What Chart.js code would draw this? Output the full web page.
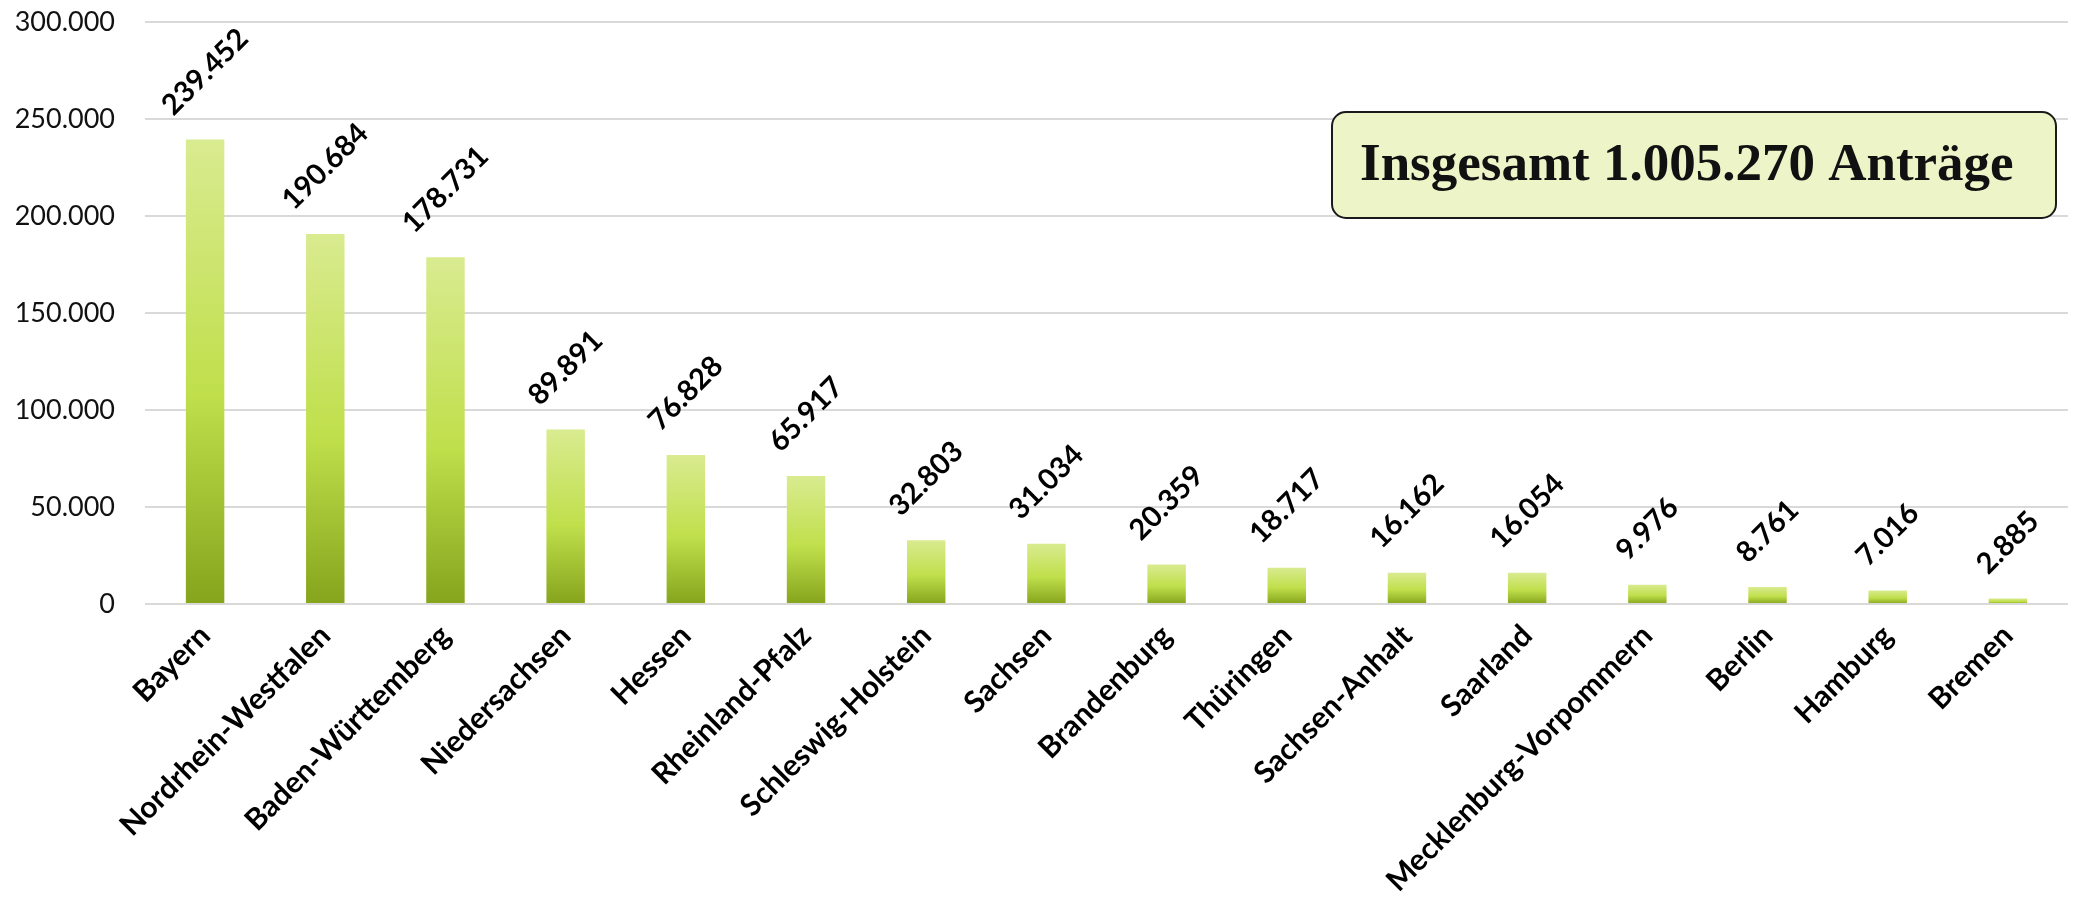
<!DOCTYPE html>
<html lang="de">
<head>
<meta charset="utf-8">
<script src="https://cdn.jsdelivr.net/npm/chart.js@4"></script>
<style>
  html, body { margin: 0; padding: 0; background: #fff; }
  #wrap { width: 2076px; height: 904px; }
</style>
</head>
<body>
<div id="wrap"><canvas id="graficoAntraege"></canvas></div>
<script>
// Bundesländer und Anzahl der Anträge
const laender = ['Bayern', 'Nordrhein-Westfalen', 'Baden-Württemberg', 'Niedersachsen', 'Hessen',
  'Rheinland-Pfalz', 'Schleswig-Holstein', 'Sachsen', 'Brandenburg', 'Thüringen', 'Sachsen-Anhalt',
  'Saarland', 'Mecklenburg-Vorpommern', 'Berlin', 'Hamburg', 'Bremen'];
const antraege = [239452, 190684, 178731, 89891, 76828, 65917, 32803, 31034, 20359, 18717, 16162,
  16054, 9976, 8761, 7016, 2885];
const yTicks = [0, 50000, 100000, 150000, 200000, 250000, 300000];
const gesamtText = 'Insgesamt 1.005.270 Anträge';

// Tausenderpunkt wie im Original
const fmt = v => String(v).replace(/\B(?=(\d{3})+(?!\d))/g, '.');

// Verlauf pro Balken: oben hell, unten olivgrün
function balkenFarbe(ctx) {
  const chart = ctx.chart;
  if (!chart.chartArea || ctx.type !== 'data') return '#c2e04e';
  const y = chart.scales.y;
  const top = y.getPixelForValue(ctx.raw);
  const base = y.getPixelForValue(0);
  const g = chart.ctx.createLinearGradient(0, top, 0, base);
  g.addColorStop(0, '#d9eb90');
  g.addColorStop(0.55, '#c0df4b');
  g.addColorStop(1, '#86a41c');
  return g;
}

// Werte schräg über den Balken
const werteLabels = {
  id: 'werteLabels',
  afterDatasetsDraw(chart) {
    const c = chart.ctx;
    const meta = chart.getDatasetMeta(0);
    c.save();
    c.font = 'bold 29px Lato';
    c.fillStyle = '#000';
    c.textAlign = 'center';
    c.textBaseline = 'middle';
    meta.data.forEach((bar, i) => {
      const txt = fmt(antraege[i]);
      const w = c.measureText(txt).width;
      const h = 21;
      const boxH = (w + h) * Math.SQRT1_2;
      c.save();
      c.translate(bar.x, bar.y - 22 - boxH / 2);
      c.rotate(-Math.PI / 4);
      c.fillText(txt, 0, 0);
      c.restore();
    });
    c.restore();
  }
};

// Kasten mit der Gesamtzahl
const gesamtBox = {
  id: 'gesamtBox',
  afterDraw(chart) {
    const c = chart.ctx;
    c.save();
    c.beginPath();
    c.roundRect(1332, 112, 724, 106, 14);
    c.fillStyle = '#ecf4c8';
    c.fill();
    c.lineWidth = 2;
    c.strokeStyle = '#1a1a1a';
    c.stroke();
    c.font = 'bold 53px "Liberation Serif"';
    c.fillStyle = '#111';
    c.textAlign = 'left';
    c.textBaseline = 'middle';
    c.fillText(gesamtText, 1360, 166);
    c.restore();
  }
};

const ctx = document.getElementById('graficoAntraege').getContext('2d');
new Chart(ctx, {
  type: 'bar',
  data: {
    labels: laender,
    datasets: [{
      label: 'Anträge',
      data: antraege,
      backgroundColor: balkenFarbe,
      borderWidth: 0,
      barPercentage: 0.32,
      categoryPercentage: 1
    }]
  },
  options: {
    responsive: true,
    maintainAspectRatio: false,
    animation: false,
    layout: { padding: { top: 0, right: 8, bottom: 0, left: 0 } },
    plugins: {
      legend: { display: false },
      tooltip: { enabled: false }
    },
    scales: {
      x: {
        grid: { display: false, drawTicks: false },
        border: { display: false },
        ticks: {
          autoSkip: false,
          minRotation: 45,
          maxRotation: 45,
          padding: 14,
          color: '#000',
          font: { family: 'Lato', size: 30, weight: 'bold' }
        },
        afterFit(scale) { scale.height = 300; }
      },
      y: {
        min: 0,
        max: 300000,
        afterBuildTicks(scale) { scale.ticks = yTicks.map(v => ({ value: v })); },
        grid: { color: '#d9d9d9', lineWidth: 2, drawTicks: false },
        border: { display: false },
        ticks: {
          padding: 30,
          color: '#111',
          font: { family: 'Lato', size: 27 },
          callback: v => fmt(v)
        },
        afterFit(scale) {
          scale.width = 145;
          // Abstand oben: sonst zählt Chart.js das Tick-Padding mit
          scale.paddingTop = 22;
          scale.paddingBottom = 0;
        }
      }
    }
  },
  plugins: [werteLabels, gesamtBox]
});
</script>
</body>
</html>
